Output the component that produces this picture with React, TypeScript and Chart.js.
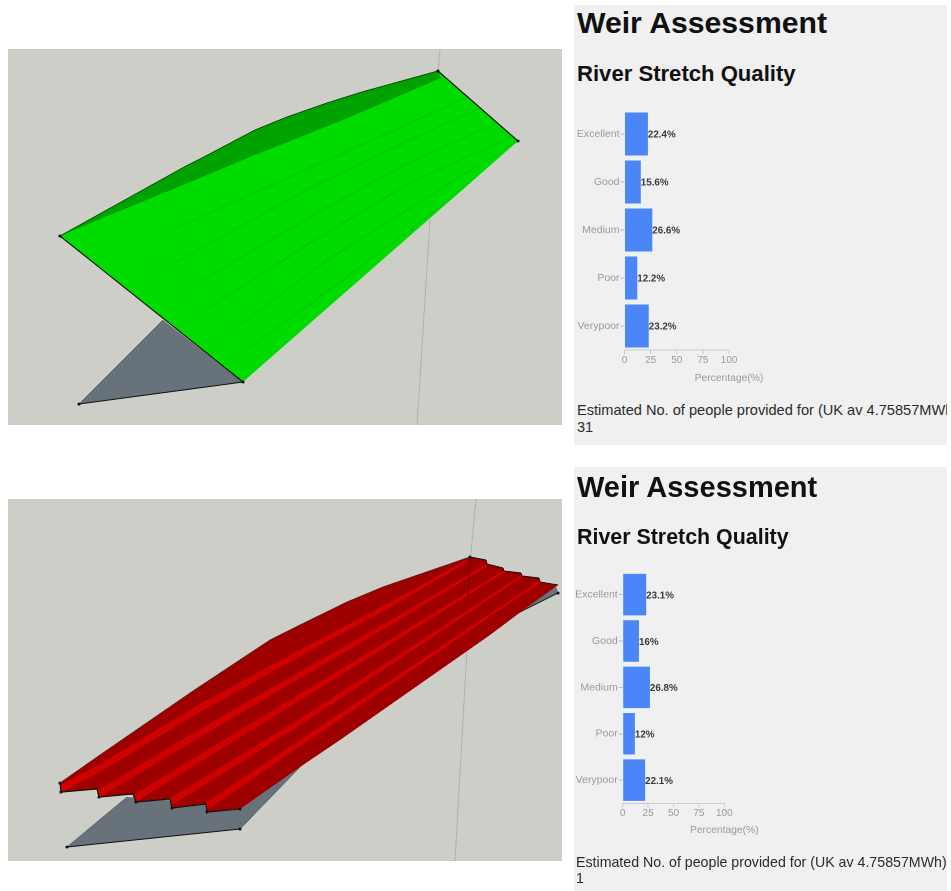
import React, { useEffect, useRef } from "react";
import { Chart, registerables } from "chart.js";

Chart.register(...registerables);

const categories = ["Excellent", "Good", "Medium", "Poor", "Verypoor"];
const greenScenario = [22.4, 15.6, 26.6, 12.2, 23.2];
const redScenario = [23.1, 16, 26.8, 12, 22.1];
const xTicks = [0, 25, 50, 75, 100];
const xTitle = "Percentage(%)";
const heading = "Weir Assessment";
const subheading = "River Stretch Quality";
const peopleLabel = "Estimated No. of people provided for (UK av 4.75857MWh)";
const FONT = '"Liberation Sans", Arial, sans-serif';

type BarProps = {
  values: number[];
  left: number;
  top: number;
  width: number;
  height: number;
  plotLeft: number;
  plotRight: number;
  plotTop: number;
  plotBottom: number;
  titleY: number;
};

function QualityChart(p: BarProps) {
  const ref = useRef<HTMLCanvasElement>(null);
  useEffect(() => {
    const xH = 22;
    const overlay = {
      id: "overlay",
      afterDatasetsDraw(chart: any) {
        const { ctx } = chart;
        const meta = chart.getDatasetMeta(0);
        ctx.save();
        ctx.font = `bold 9.8px ${FONT}`;
        ctx.fillStyle = "#3a3a3a";
        ctx.textBaseline = "middle";
        meta.data.forEach((bar: any, i: number) => {
          ctx.fillText(`${p.values[i]}%`, bar.x, bar.y + 1);
        });
        ctx.font = `10.3px ${FONT}`;
        ctx.fillStyle = "#999";
        ctx.textAlign = "center";
        ctx.fillText(xTitle, chart.scales.x.getPixelForValue(100), p.titleY - p.top);
        ctx.restore();
      },
    };
    const chart = new Chart(ref.current!, {
      type: "bar",
      data: {
        labels: categories,
        datasets: [
          {
            data: p.values,
            backgroundColor: "#4a86f8",
            categoryPercentage: 1,
            barPercentage: 0.895,
          },
        ],
      },
      options: {
        indexAxis: "y",
        animation: false,
        responsive: false,
        devicePixelRatio: 2,
        layout: {
          padding: {
            left: 0,
            top: p.plotTop - p.top,
            right: p.left + p.width - p.plotRight,
            bottom: p.top + p.height - p.plotBottom - xH,
          },
        },
        plugins: { legend: { display: false }, tooltip: { enabled: false } },
        scales: {
          x: {
            type: "linear",
            min: 0,
            max: 100,
            afterFit: (s: any) => { s.height = xH; },
            afterBuildTicks: (s: any) => { s.ticks = xTicks.map((value) => ({ value })); },
            grid: { drawOnChartArea: false, drawTicks: true, tickLength: 4, color: "#ccc" },
            border: { color: "#ccc" },
            ticks: { color: "#999", font: { family: FONT, size: 10 }, padding: 0, maxRotation: 0 },
          },
          y: {
            type: "category",
            afterFit: (s: any) => { s.width = p.plotLeft - p.left; },
            grid: { drawOnChartArea: false, drawTicks: true, tickLength: 4, color: "#bbb", offset: false },
            border: { display: false },
            ticks: { color: "#999", font: { family: FONT, size: 10.5 }, padding: 1 },
          },
        },
      },
      plugins: [overlay],
    } as any);
    return () => chart.destroy();
  }, []);
  return (
    <canvas
      ref={ref}
      width={p.width}
      height={p.height}
      style={{ position: "absolute", left: p.left, top: p.top, width: p.width, height: p.height }}
    />
  );
}

function Txt(props: { x: number; y: number; size: number; bold?: boolean; color?: string; children: React.ReactNode }) {
  return (
    <div
      style={{
        position: "absolute",
        left: props.x,
        top: props.y,
        fontFamily: FONT,
        fontSize: props.size,
        fontWeight: props.bold ? 700 : 400,
        color: props.color ?? "#111",
        lineHeight: 1,
        whiteSpace: "nowrap",
      }}
    >
      {props.children}
    </div>
  );
}

const pts = (a: number[][]) => a.map((q) => q.join(",")).join(" ");

// A band following a centre line; each point is x, y, vertical thickness.
function ribbon(line: number[][]) {
  const upper = line.map((q) => [q[0], q[1] - q[2] / 2]);
  const lower = line.map((q) => [q[0], q[1] + q[2] / 2]).reverse();
  return [...upper, ...lower];
}

function Dots({ list, r = 1.6 }: { list: number[][]; r?: number }) {
  return (
    <>
      {list.map((q, i) => (
        <circle key={i} cx={q[0]} cy={q[1]} r={r} fill="#111" />
      ))}
    </>
  );
}

function GreenModel() {
  const topEdge = [[60, 236], [186, 166], [200, 159], [255, 130], [287, 117], [327, 103], [362, 92], [438, 71]];
  const body = [...topEdge, [518, 141], [243, 382]];
  const bands = [
    [[160, 235, 0], [187, 223, 1.5], [310, 168, 3.5], [410, 123, 3], [467, 97, 1.5]],
    [[140, 282, 0], [180, 260, 1.5], [310, 188, 3.5], [410, 140, 3], [480, 108, 1.5]],
    [[170, 300, 0], [203, 280, 1.5], [310, 217, 3.5], [410, 162, 3], [497, 123, 1.5]],
    [[180, 326, 0], [210, 307, 1.5], [310, 243, 3.5], [410, 183, 3], [513, 136, 1.5]],
    [[210, 347, 0], [237, 327, 1.5], [327, 260, 3.5], [410, 208, 3], [518, 141, 1]],
    [[225, 365, 0], [250, 347, 1.5], [343, 280, 3], [410, 230, 2.5], [500, 160, 1]],
  ];
  return (
    <>
      <defs>
        <clipPath id="greenBody">
          <polygon points={pts(body)} />
        </clipPath>
      </defs>
      <rect x={8} y={49} width={554} height={376} fill="#cdcec8" />
      <line x1={440} y1={49} x2={438} y2={71} stroke="#8a8a86" strokeWidth={0.7} strokeDasharray="1.5 1" />
      <line x1={430} y1={220} x2={417} y2={425} stroke="#8a8a86" strokeWidth={0.7} strokeDasharray="1.5 1" />
      <polygon points={pts([[163, 320], [243, 382], [79, 404]])} fill="#68727a" />
      <polyline points={pts([[163, 320], [79, 404]])} fill="none" stroke="#3d454a" strokeWidth={0.6} />
      <polyline points={pts([[79, 404], [243, 382]])} fill="none" stroke="#111" strokeWidth={1.2} />
      <polygon points={pts(body)} fill="#00dc00" />
      <g clipPath="url(#greenBody)">
        {bands.map((b, i) => (
          <polygon key={i} points={pts(ribbon(b))} fill="#00cf00" />
        ))}
      </g>
      <polygon
        points={pts([...topEdge, [441, 78], [343, 120], [250, 157], [200, 178], [110, 215]])}
        fill="#00a200"
      />
      <polyline points={pts(topEdge)} fill="none" stroke="#0b4d0b" strokeWidth={1} />
      <polyline points={pts([[60, 236], [243, 382]])} fill="none" stroke="#111" strokeWidth={1.1} />
      <polyline points={pts([[438, 71], [518, 141]])} fill="none" stroke="#111" strokeWidth={1.1} />
      <Dots list={[[60, 236], [438, 71], [518, 141], [243, 382], [79, 404]]} />
    </>
  );
}

function RedModel() {
  const topEdge = [[60, 783], [100, 755], [193, 691], [270, 640], [300, 625], [347, 602], [383, 587], [470, 557]];
  const backSteps = [[486, 560], [487, 564], [503, 568], [504, 571], [521, 573], [522, 576], [539, 578], [540, 582], [558, 585]];
  const lowEdge = [[518, 614], [490, 635], [340, 740], [303, 765], [240, 809]];
  const frontOrdered = [[240, 809], [207, 812], [206, 804], [172, 808], [170, 799], [136, 802], [133, 794], [99, 797], [97, 789], [61, 792], [60, 783]];
  const body = [...topEdge, ...backSteps, ...lowEdge, ...frontOrdered.slice(1)];
  const stripes = [
    [[40, 800, 8], [62, 788, 8], [100, 768, 8], [200, 708, 8], [300, 653, 6.5], [390, 605, 5], [467, 561, 3]],
    [[60, 817, 8], [100, 793, 8], [200, 733, 8], [300, 675, 6.5], [390, 623, 5], [487, 565, 3]],
    [[100, 820, 8], [140, 795, 8], [300, 697, 6.5], [390, 642, 5], [490, 580, 3], [505, 571, 3]],
    [[135, 822, 8], [177, 798, 8], [300, 722, 6.5], [390, 663, 5], [490, 597, 3], [523, 575, 3]],
    [[170, 830, 8], [207, 806, 8], [300, 743, 6.5], [390, 683, 5], [490, 615, 3], [541, 581, 3]],
  ];
  return (
    <>
      <defs>
        <clipPath id="redBody">
          <polygon points={pts(body)} />
        </clipPath>
      </defs>
      <rect x={8} y={499} width={554} height={362} fill="#cdcec8" />
      <line x1={476} y1={499} x2={470.5} y2={557} stroke="#8a8a86" strokeWidth={0.7} strokeDasharray="1.5 1" />
      <line x1={467} y1={650} x2={455} y2={861} stroke="#8a8a86" strokeWidth={0.7} strokeDasharray="1.5 1" />
      <polygon points={pts([[127, 797], [67, 847], [240, 829], [300, 767], [240, 806]])} fill="#68727a" />
      <polyline points={pts([[67, 847], [240, 829]])} fill="none" stroke="#111" strokeWidth={1.1} />
      <polyline points={pts([[240, 829], [300, 767]])} fill="none" stroke="#3d454a" strokeWidth={0.7} />
      <polyline points={pts([[67, 847], [127, 797]])} fill="none" stroke="#3d454a" strokeWidth={0.6} />
      <polygon points={pts([[518, 613], [558, 593], [556, 586]])} fill="#68727a" />
      <polyline points={pts([[520, 612], [558, 593]])} fill="none" stroke="#111" strokeWidth={1} />
      <polygon points={pts(body)} fill="#9e0000" />
      <g clipPath="url(#redBody)">
        {stripes.map((s, i) => (
          <polygon key={i} points={pts(ribbon(s))} fill="#cf0000" />
        ))}
      </g>
      <line x1={470} y1={557} x2={468} y2={597} stroke="#5a0000" strokeWidth={0.7} />
      <polyline points={pts(topEdge)} fill="none" stroke="#4a1010" strokeWidth={0.8} />
      <polyline points={pts([[470, 557], ...backSteps])} fill="none" stroke="#111" strokeWidth={1} />
      <polyline points={pts(frontOrdered)} fill="none" stroke="#111" strokeWidth={1.2} />
      <Dots list={[[60, 783], [61, 792], [99, 797], [136, 802], [172, 808], [207, 812], [240, 809], [240, 829], [67, 847], [558, 593], [470, 557]]} />
    </>
  );
}

export default function App() {
  return (
    <div style={{ position: "absolute", left: 0, top: 0, width: 951, height: 891, overflow: "hidden", background: "#fff" }}>
      <svg width={951} height={891} style={{ position: "absolute", left: 0, top: 0, filter: "blur(0.5px)" }}>
        <GreenModel />
        <RedModel />
      </svg>

      <div style={{ position: "absolute", inset: 0, filter: "blur(0.75px)" }}>
        <div style={{ position: "absolute", left: 574, top: 5, width: 373, height: 440, background: "#f0f0f0" }} />
        <div style={{ position: "absolute", left: 574, top: 467, width: 373, height: 424, background: "#f0f0f0" }} />

        <Txt x={577} y={8} size={30.2} bold>{heading}</Txt>
        <Txt x={577} y={63} size={22.1} bold>{subheading}</Txt>
        <QualityChart values={greenScenario} left={574} top={100} width={373} height={290}
          plotLeft={624.5} plotRight={729} plotTop={110} plotBottom={350} titleY={378} />
        <div style={{ position: "absolute", left: 574, top: 403, width: 373, height: 40, overflow: "hidden" }}>
          <Txt x={3} y={0} size={14.6} color="#2c2c2c">{peopleLabel}</Txt>
          <Txt x={3} y={17} size={14.6} color="#2c2c2c">31</Txt>
        </div>

        <Txt x={577} y={473} size={29} bold>{heading}</Txt>
        <Txt x={577} y={527} size={21.4} bold>{subheading}</Txt>
        <QualityChart values={redScenario} left={574} top={560} width={373} height={285}
          plotLeft={622.7} plotRight={724.3} plotTop={571.5} plotBottom={803.3} titleY={830} />
        <div style={{ position: "absolute", left: 574, top: 855, width: 373, height: 36, overflow: "hidden" }}>
          <Txt x={2} y={0} size={14.2} color="#2c2c2c">{peopleLabel}</Txt>
          <Txt x={2} y={16} size={14.2} color="#2c2c2c">1</Txt>
        </div>
      </div>
    </div>
  );
}
